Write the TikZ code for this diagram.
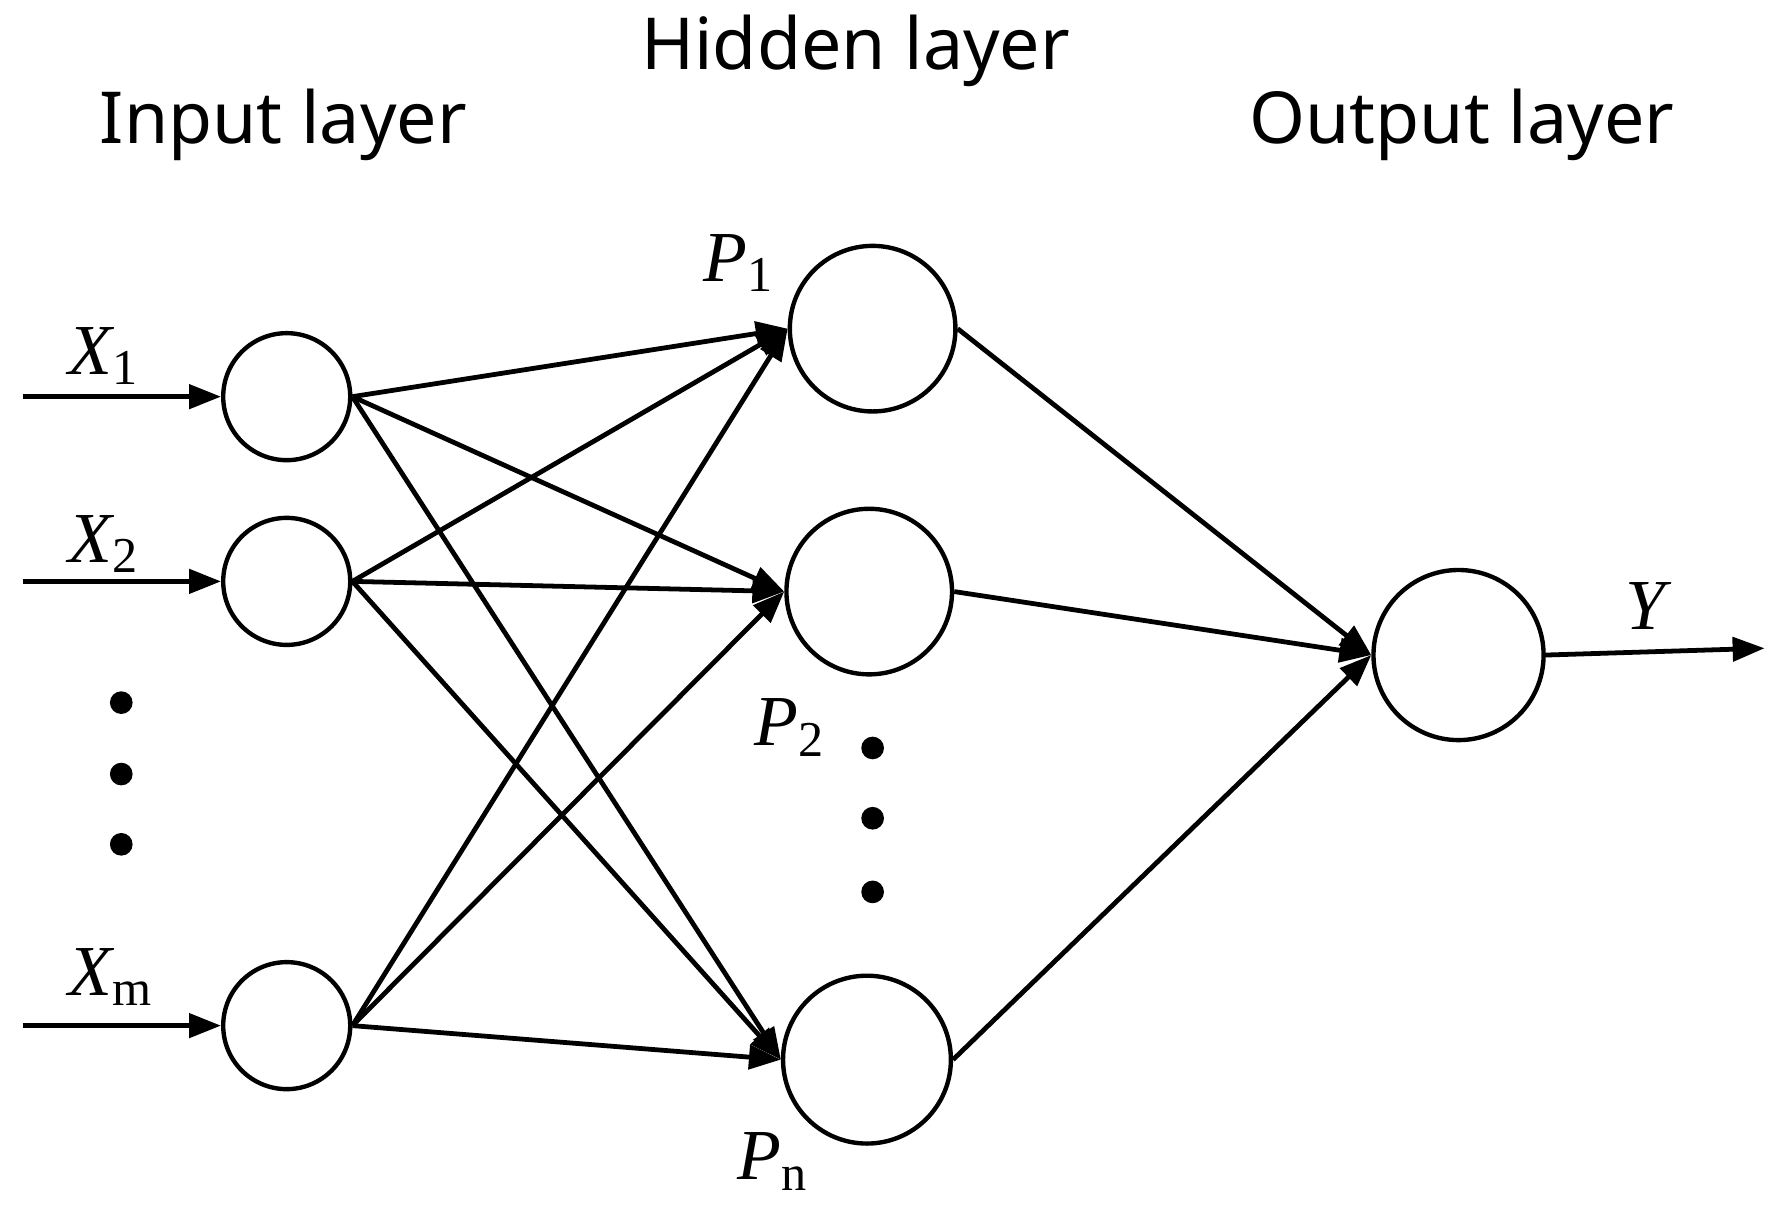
\documentclass[tikz,border=0pt]{standalone}
\usepackage{fontspec}
\setmainfont{Liberation Serif}
\newfontfamily\titlefont{Noto Sans}
\usetikzlibrary{arrows.meta}
\begin{document}
\begin{tikzpicture}[x=0.01cm,y=-0.01cm,
  neu/.style={circle,draw,line width=1.1pt,minimum size=#1*0.02cm,inner sep=0pt},
  con/.style={line width=1.2pt,-{Triangle[length=8pt,width=6pt]}},
  ttl/.style={font=\titlefont\fontsize{18}{20}\selectfont},
  lbl/.style={font=\fontsize{18}{20}\selectfont\itshape},
  dot/.style={circle,fill,inner sep=0pt,minimum size=0.2cm}]
\useasboundingbox (0,0) rectangle (1568,1069);
\node[ttl] (t1) at (250,110) {Input layer};
\node[ttl] (t2) at (755,45) {Hidden layer};
\node[ttl] (t3) at (1290,110) {Output layer};
\node[neu=56] (i1) at (253,350) {};
\node[neu=56] (i2) at (253,513) {};
\node[neu=56] (im) at (253,905) {};
\node[neu=73] (h1) at (770,290) {};
\node[neu=73] (h2) at (767,522) {};
\node[neu=74] (hn) at (765,935) {};
\node[neu=75] (o) at (1287,578) {};
\coordinate (a1) at (20,350);
\coordinate (a2) at (20,513);
\coordinate (am) at (20,905);
\coordinate (y) at (1557,572);
\draw[con] (a1) -- (i1);
\draw[con] (a2) -- (i2);
\draw[con] (am) -- (im);
\foreach \i in {i1,i2,im}{\foreach \h in {h1,h2,hn}{\draw[con] (\i.east) -- (\h.west);}}
\foreach \h in {h1,h2,hn}{\draw[con] (\h.east) -- (o.west);}
\draw[con] (o.east) -- (y);
\foreach \yy [count=\k] in {620,683,745}{\node[dot] (d\k) at (107,\yy) {};}
\foreach \yy [count=\k] in {660,722,787}{\node[dot] (e\k) at (770,\yy) {};}
\node[lbl] (x1) at (92,314) {X\textsubscript{\upshape 1}};
\node[lbl] (x2) at (92,480) {X\textsubscript{\upshape 2}};
\node[lbl] (xm) at (98,862) {X\textsubscript{\upshape m}};
\node[lbl] (p1) at (652,232) {P\textsubscript{\upshape 1}};
\node[lbl] (p2) at (697,642) {P\textsubscript{\upshape 2}};
\node[lbl] (pn) at (682,1025) {P\textsubscript{\upshape n}};
\node[lbl] (yl) at (1452,535) {Y};
\end{tikzpicture}
\end{document}
